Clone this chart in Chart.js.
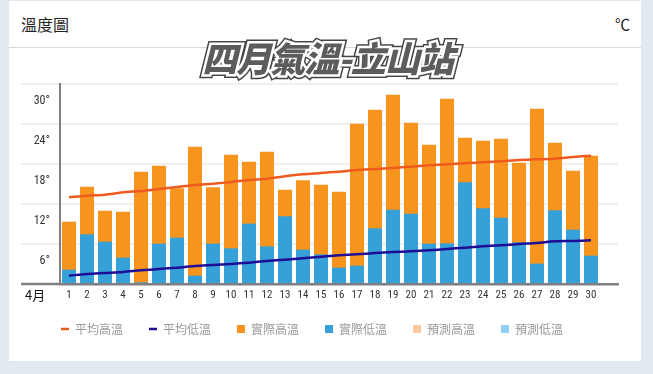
<!DOCTYPE html>
<html>
<head>
<meta charset="utf-8">
<script src="https://cdn.jsdelivr.net/npm/chart.js@4/dist/chart.umd.min.js"></script>
<style>
  html, body { margin: 0; padding: 0; background: #e3e9f1; width: 653px; height: 374px; overflow: hidden; }
  #card { position: absolute; left: 9px; top: 1px; width: 632px; height: 360px; background: #fff; }
  #sep { position: absolute; left: 9px; top: 47px; width: 632px; height: 1px; background: #d9d9d9; }
  #hdr { position: absolute; left: 21px; top: 13px; font: 16px "Noto Sans CJK TC", sans-serif; color: #222; line-height: 22px; }
  #unit { position: absolute; left: 615px; top: 13px; font: 15px "Noto Sans CJK TC", sans-serif; color: #222; line-height: 22px; }
  #month { position: absolute; left: 25px; top: 286px; font: 13px "Noto Sans CJK TC", sans-serif; color: #111; line-height: 18px; }
  .ttl { position: absolute; left: 1px; width: 653px; top: 35px; text-align: center; font: italic 900 35px "Noto Sans CJK TC", sans-serif; line-height: 44px; letter-spacing: -1px; white-space: nowrap; }
  #t1 { color: #444; -webkit-text-stroke: 8px #444; }
  #t2 { color: #fff; -webkit-text-stroke: 5px #fff; }
  #t3 { color: #5c5c5c; }
  canvas { position: absolute; left: 0; top: 0; }
</style>
</head>
<body>
<div id="card"></div>
<div id="sep"></div>
<div id="hdr">溫度圖</div>
<div id="unit">℃</div>
<canvas id="c" width="653" height="374"></canvas>
<div class="ttl" id="t1">四月氣溫-立山站</div>
<div class="ttl" id="t2">四月氣溫-立山站</div>
<div class="ttl" id="t3">四月氣溫-立山站</div>
<div id="month">4月</div>
<script>
const dayLabels = ['1','2','3','4','5','6','7','8','9','10','11','12','13','14','15','16','17','18','19','20','21','22','23','24','25','26','27','28','29','30'];
const avgHigh = [13.0,13.25,13.4,13.75,13.95,14.25,14.55,14.85,15.05,15.3,15.6,15.8,16.15,16.45,16.65,16.85,17.1,17.25,17.4,17.6,17.8,17.95,18.1,18.25,18.4,18.6,18.7,18.8,19.05,19.25];
const avgLow = [1.25,1.5,1.65,1.8,2.05,2.25,2.45,2.7,2.85,3.0,3.2,3.45,3.65,3.85,4.1,4.3,4.45,4.65,4.8,4.9,5.05,5.25,5.45,5.65,5.8,6.0,6.15,6.4,6.45,6.55];
const actualHigh = [9.35,14.6,11.0,10.85,16.85,17.75,14.35,20.6,14.5,19.4,18.35,19.85,14.15,15.55,14.9,13.85,24.05,26.15,28.4,24.2,20.9,27.8,21.95,21.5,21.8,18.2,26.3,21.2,17.0,19.25];
const actualLow = [2.15,7.45,6.35,3.95,0.25,6.05,6.95,1.25,6.05,5.35,9.05,5.65,10.15,5.15,4.45,2.45,2.75,8.35,11.15,10.55,6.05,6.1,15.25,11.35,9.95,6.25,3.05,11.05,8.15,4.25];
const forecastHigh = [];
const forecastLow = [];
const yTicks = [0, 6, 12, 18, 24, 30];
const seriesNames = ['平均高溫','平均低溫','實際高溫','實際低溫','預測高溫','預測低溫'];

const xLabels = dayLabels.concat(['']);
const narrow = '"Liberation Sans Narrow", "Roboto Condensed", Roboto, sans-serif';

const legendShift = {
  id: 'legendShift',
  afterLayout(chart) {
    if (chart.legend) { chart.legend.top -= 5; chart.legend.bottom -= 5; }
  }
};

new Chart(document.getElementById('c'), {
  type: 'bar',
  plugins: [legendShift],
  data: {
    labels: xLabels,
    datasets: [
      { type: 'line', label: seriesNames[0], data: avgHigh, borderColor: '#f05a1e', backgroundColor: '#f05a1e', borderWidth: 2.5, pointRadius: 0, pointStyle: 'line', tension: 0.3, order: 0 },
      { type: 'line', label: seriesNames[1], data: avgLow, borderColor: '#1e0d96', backgroundColor: '#1e0d96', borderWidth: 2.5, pointRadius: 0, pointStyle: 'line', tension: 0.3, order: 1 },
      { label: seriesNames[2], data: actualHigh, backgroundColor: '#f7941d', borderWidth: 0, pointStyle: 'rect', order: 4 },
      { label: seriesNames[3], data: actualLow, backgroundColor: '#36a0d8', borderWidth: 0, pointStyle: 'rect', order: 3 },
      { label: seriesNames[4], data: forecastHigh, backgroundColor: '#fbc9a5', borderWidth: 0, pointStyle: 'rect', order: 6 },
      { label: seriesNames[5], data: forecastLow, backgroundColor: '#8fd0ee', borderWidth: 0, pointStyle: 'rect', order: 5 }
    ]
  },
  options: {
    responsive: false,
    devicePixelRatio: 1,
    animation: false,
    layout: { padding: { left: 6, right: 35, top: 84, bottom: 24 } },
    datasets: { bar: { categoryPercentage: 1, barPercentage: 0.78 } },
    plugins: {
      tooltip: { enabled: false },
      legend: {
        position: 'bottom',
        labels: {
          usePointStyle: true,
          pointStyleWidth: 8,
          boxHeight: 8,
          padding: 26,
          color: '#999',
          font: { family: '"Noto Sans CJK TC", sans-serif', size: 12 },
          sort: (a, b) => a.datasetIndex - b.datasetIndex
        }
      }
    },
    scales: {
      x: {
        stacked: true,
        grid: { display: false, drawTicks: false },
        border: { display: true, color: '#808080', width: 2.5 },
        ticks: { color: '#333', font: { family: narrow, size: 11 }, padding: 5, maxRotation: 0, autoSkip: false },
        afterFit: (s) => { s.height = 18; }
      },
      y: {
        stacked: false,
        min: 0,
        max: 30,
        afterBuildTicks: (s) => { s.ticks = yTicks.map(v => ({ value: v })); },
        grid: {
          color: '#efefef',
          lineWidth: 2,
          drawTicks: true,
          tickLength: 39,
          tickColor: (ctx) => (ctx.tick && ctx.tick.value === 0 ? '#808080' : '#efefef'),
          tickWidth: (ctx) => (ctx.tick && ctx.tick.value === 0 ? 2.5 : 2)
        },
        border: { display: true, color: '#808080', width: 2 },
        ticks: {
          color: '#333',
          font: { family: narrow, size: 12 },
          padding: -29,
          labelOffset: 17,
          callback: (v) => (v === 0 ? '' : v + '°')
        },
        afterFit: (s) => { s.width = 54; }
      }
    }
  }
});
</script>
</body>
</html>
